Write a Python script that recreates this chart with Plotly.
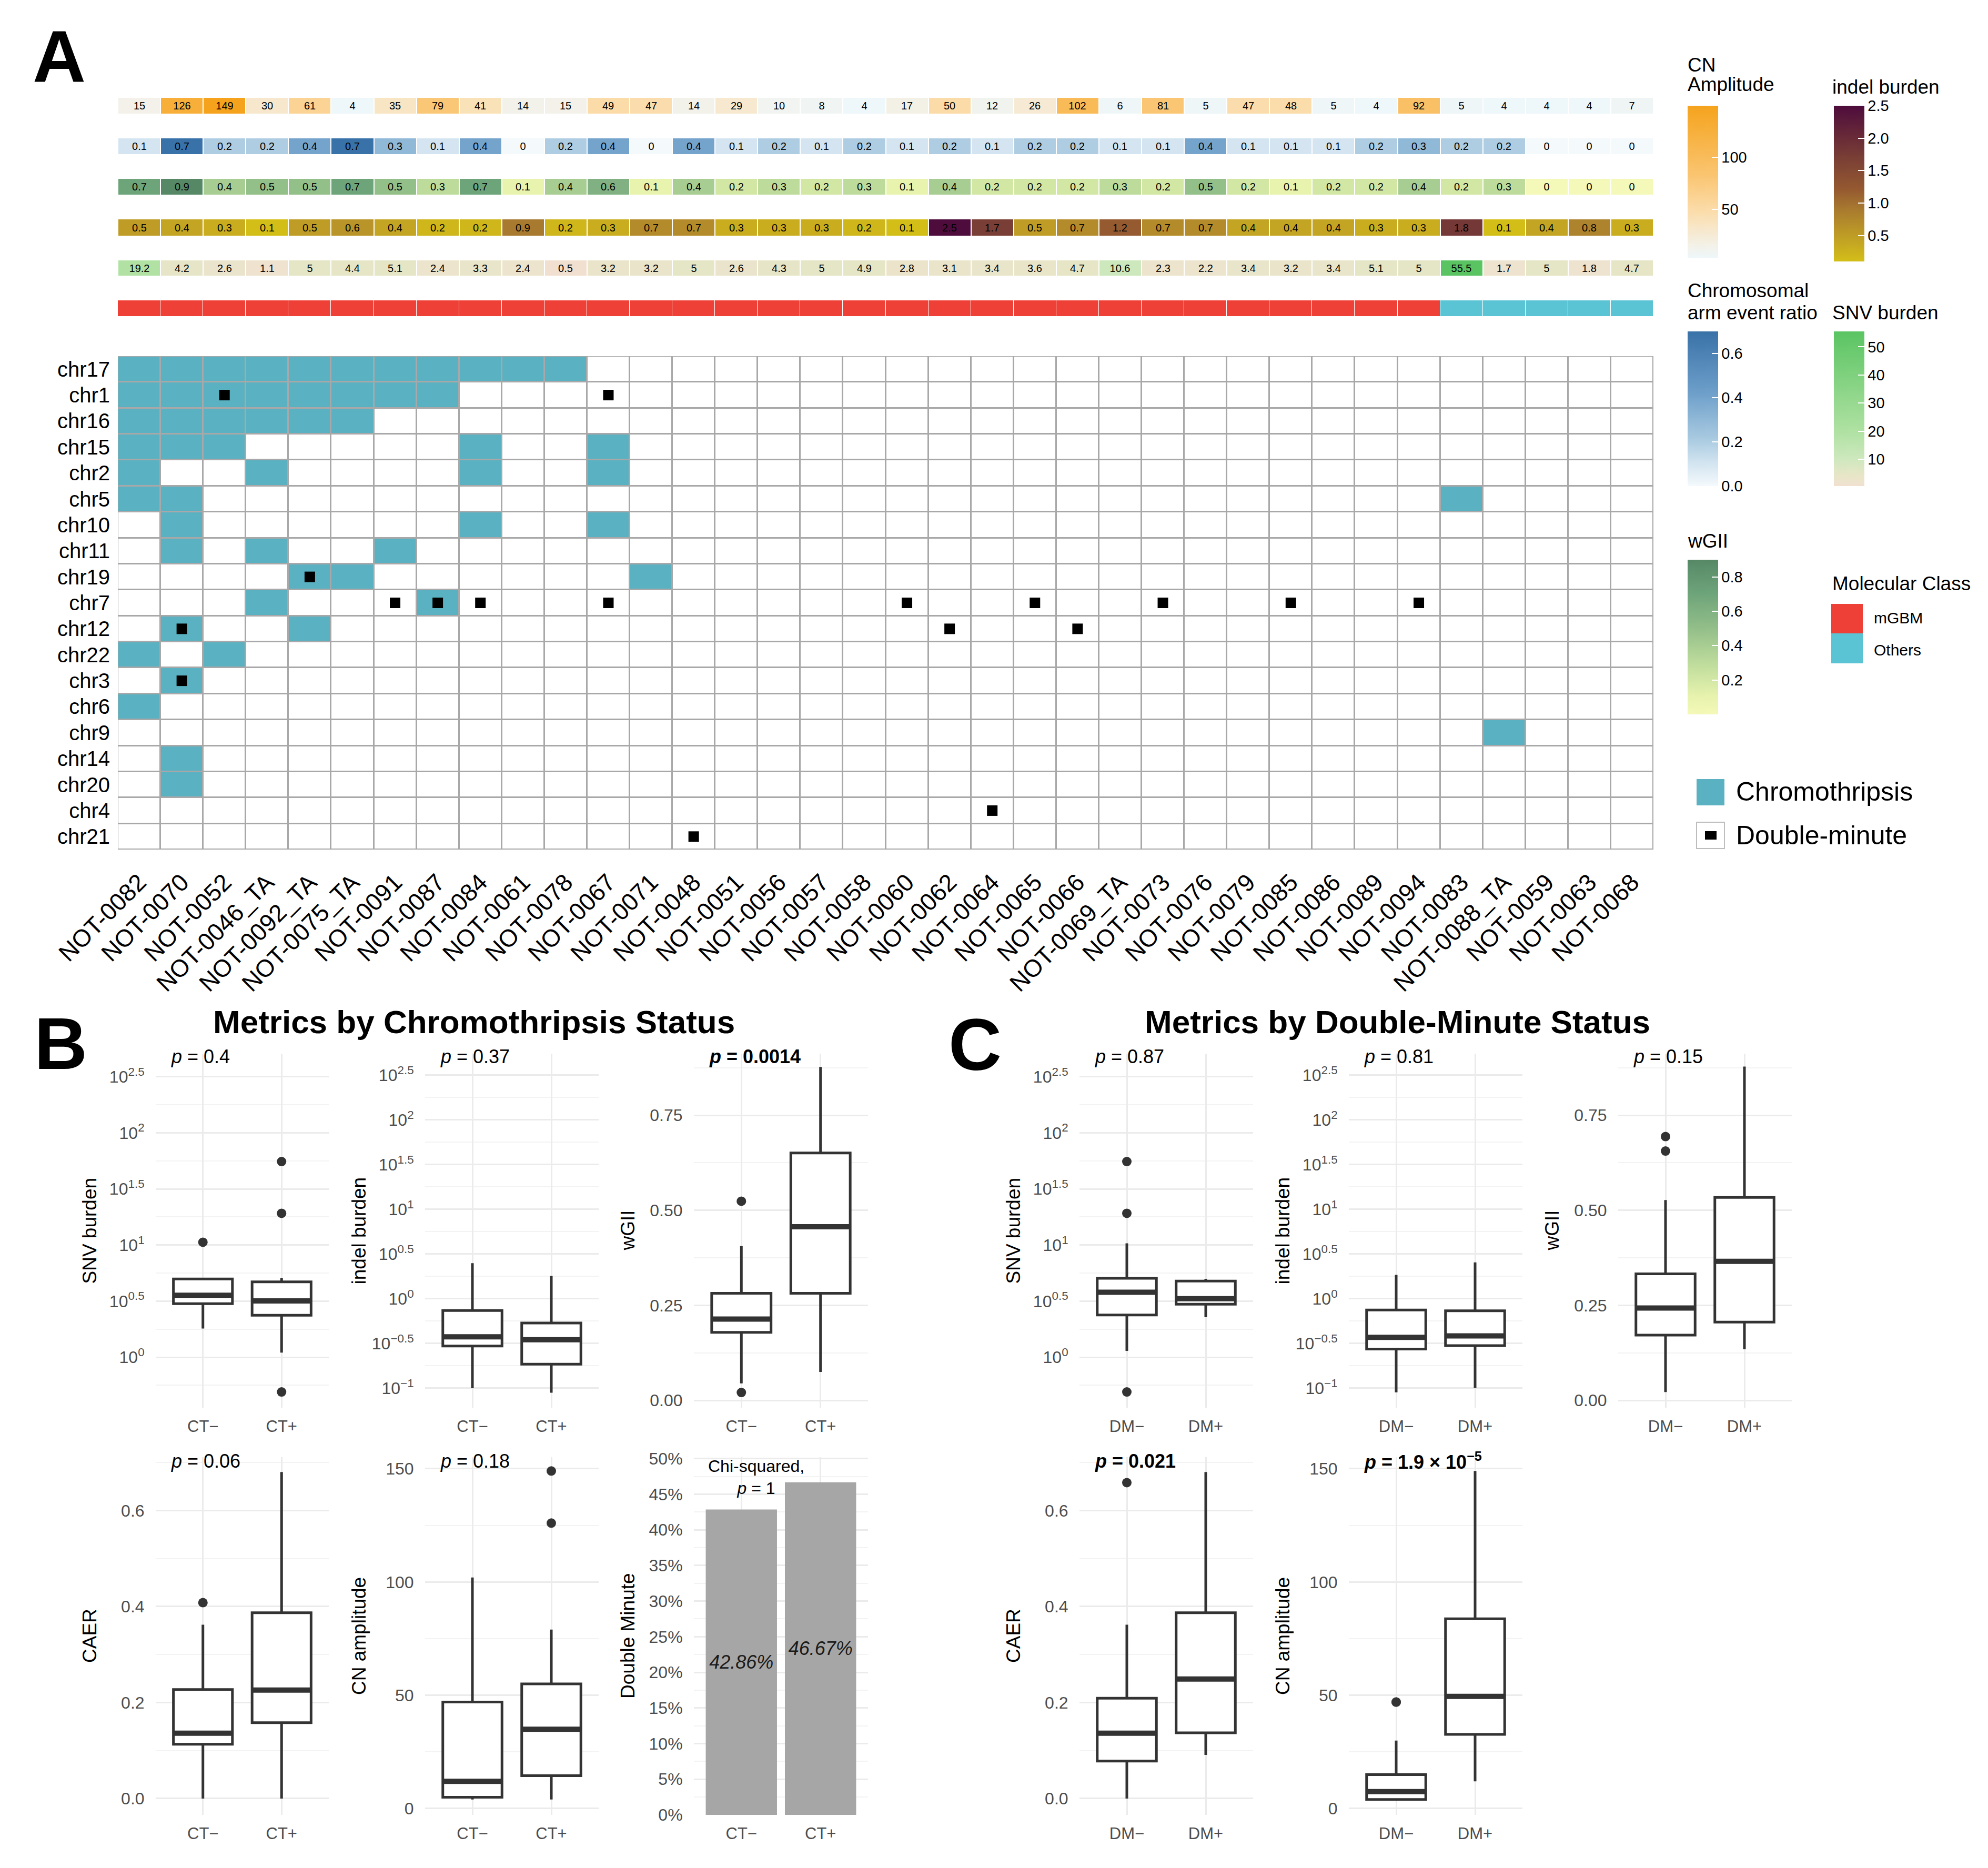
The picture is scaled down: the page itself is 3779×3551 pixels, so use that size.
import numpy as np
import plotly.graph_objects as go

W, H = 3779, 3551
FONT = "Liberation Sans, Arial, Helvetica, sans-serif"

# ---------------- data ----------------
samples = ["NOT-0082", "NOT-0070", "NOT-0052", "NOT-0046_TA", "NOT-0092_TA", "NOT-0075_TA",
           "NOT-0091", "NOT-0087", "NOT-0084", "NOT-0061", "NOT-0078", "NOT-0067", "NOT-0071",
           "NOT-0048", "NOT-0051", "NOT-0056", "NOT-0057", "NOT-0058", "NOT-0060", "NOT-0062",
           "NOT-0064", "NOT-0065", "NOT-0066", "NOT-0069_TA", "NOT-0073", "NOT-0076", "NOT-0079",
           "NOT-0085", "NOT-0086", "NOT-0089", "NOT-0094", "NOT-0083", "NOT-0088_TA", "NOT-0059",
           "NOT-0063", "NOT-0068"]

chromosomes = ["chr17", "chr1", "chr16", "chr15", "chr2", "chr5", "chr10", "chr11", "chr19", "chr7",
               "chr12", "chr22", "chr3", "chr6", "chr9", "chr14", "chr20", "chr4", "chr21"]

cn_amplitude = [15, 126, 149, 30, 61, 4, 35, 79, 41, 14, 15, 49, 47, 14, 29, 10, 8, 4,
                17, 50, 12, 26, 102, 6, 81, 5, 47, 48, 5, 4, 92, 5, 4, 4, 4, 7]
caer = [0.1, 0.7, 0.2, 0.2, 0.4, 0.7, 0.3, 0.1, 0.4, 0, 0.2, 0.4, 0, 0.4, 0.1, 0.2, 0.1, 0.2,
        0.1, 0.2, 0.1, 0.2, 0.2, 0.1, 0.1, 0.4, 0.1, 0.1, 0.1, 0.2, 0.3, 0.2, 0.2, 0, 0, 0]
wgii = [0.7, 0.9, 0.4, 0.5, 0.5, 0.7, 0.5, 0.3, 0.7, 0.1, 0.4, 0.6, 0.1, 0.4, 0.2, 0.3, 0.2, 0.3,
        0.1, 0.4, 0.2, 0.2, 0.2, 0.3, 0.2, 0.5, 0.2, 0.1, 0.2, 0.2, 0.4, 0.2, 0.3, 0, 0, 0]
indel_burden = [0.5, 0.4, 0.3, 0.1, 0.5, 0.6, 0.4, 0.2, 0.2, 0.9, 0.2, 0.3, 0.7, 0.7, 0.3, 0.3, 0.3, 0.2,
                0.1, 2.5, 1.7, 0.5, 0.7, 1.2, 0.7, 0.7, 0.4, 0.4, 0.4, 0.3, 0.3, 1.8, 0.1, 0.4, 0.8, 0.3]
snv_burden = [19.2, 4.2, 2.6, 1.1, 5, 4.4, 5.1, 2.4, 3.3, 2.4, 0.5, 3.2, 3.2, 5, 2.6, 4.3, 5, 4.9,
              2.8, 3.1, 3.4, 3.6, 4.7, 10.6, 2.3, 2.2, 3.4, 3.2, 3.4, 5.1, 5, 55.5, 1.7, 5, 1.8, 4.7]
molecular_class = ["mGBM"] * 31 + ["Others"] * 5

chromothripsis = {
    "chr17": ["NOT-0082", "NOT-0070", "NOT-0052", "NOT-0046_TA", "NOT-0092_TA", "NOT-0075_TA",
              "NOT-0091", "NOT-0087", "NOT-0084", "NOT-0061", "NOT-0078"],
    "chr1": ["NOT-0082", "NOT-0070", "NOT-0052", "NOT-0046_TA", "NOT-0092_TA", "NOT-0075_TA",
             "NOT-0091", "NOT-0087"],
    "chr16": ["NOT-0082", "NOT-0070", "NOT-0052", "NOT-0046_TA", "NOT-0092_TA", "NOT-0075_TA"],
    "chr15": ["NOT-0082", "NOT-0070", "NOT-0052", "NOT-0084", "NOT-0067"],
    "chr2": ["NOT-0082", "NOT-0046_TA", "NOT-0084", "NOT-0067"],
    "chr5": ["NOT-0082", "NOT-0070", "NOT-0083"],
    "chr10": ["NOT-0070", "NOT-0084", "NOT-0067"],
    "chr11": ["NOT-0070", "NOT-0046_TA", "NOT-0091"],
    "chr19": ["NOT-0092_TA", "NOT-0075_TA", "NOT-0071"],
    "chr7": ["NOT-0046_TA", "NOT-0087"],
    "chr12": ["NOT-0070", "NOT-0092_TA"],
    "chr22": ["NOT-0082", "NOT-0052"],
    "chr3": ["NOT-0070"],
    "chr6": ["NOT-0082"],
    "chr9": ["NOT-0088_TA"],
    "chr14": ["NOT-0070"],
    "chr20": ["NOT-0070"],
    "chr4": [],
    "chr21": [],
}
double_minute = {
    "chr1": ["NOT-0052", "NOT-0067"],
    "chr19": ["NOT-0092_TA"],
    "chr7": ["NOT-0091", "NOT-0087", "NOT-0084", "NOT-0067", "NOT-0060", "NOT-0065",
             "NOT-0073", "NOT-0085", "NOT-0094"],
    "chr12": ["NOT-0070", "NOT-0062", "NOT-0066"],
    "chr3": ["NOT-0070"],
    "chr4": ["NOT-0064"],
    "chr21": ["NOT-0048"],
}

# box summaries: [lower whisker, Q1, median, Q3, upper whisker] for (neg, pos)
snv_box_ct = [[1.8, 3.0, 3.57, 4.98, 5.1], [1.1, 2.37, 3.18, 4.7, 5.1]]
snv_out_ct = [[10.6], [55.5, 19.2, 0.49]]
indel_box_ct = [[0.10, 0.296, 0.375, 0.74, 2.5], [0.089, 0.186, 0.349, 0.536, 1.8]]
indel_out_ct = [[], []]
wgii_box_ct = [[0.045, 0.179, 0.214, 0.282, 0.406], [0.075, 0.282, 0.457, 0.651, 0.877]]
wgii_out_ct = [[0.524, 0.021], []]
caer_box_ct = [[0.0, 0.113, 0.136, 0.227, 0.362], [0.0, 0.158, 0.226, 0.387, 0.680]]
caer_out_ct = [[0.408], []]
cn_box_ct = [[4, 5, 12, 47, 102], [4, 14.5, 35, 55, 79]]
cn_out_ct = [[], [126, 149]]

snv_box_dm = [[1.14, 2.38, 3.8, 5.06, 10.35], [2.27, 2.97, 3.33, 4.78, 5.0]]
snv_out_dm = [[55.5, 19.2, 0.49], []]
indel_box_dm = [[0.09, 0.274, 0.371, 0.75, 1.85], [0.101, 0.299, 0.384, 0.734, 2.55]]
indel_out_dm = [[], []]
wgii_box_dm = [[0.022, 0.172, 0.243, 0.333, 0.527], [0.135, 0.206, 0.366, 0.534, 0.878]]
wgii_out_dm = [[0.694, 0.656], []]
caer_box_dm = [[0.0, 0.078, 0.136, 0.209, 0.362], [0.091, 0.137, 0.249, 0.387, 0.680]]
caer_out_dm = [[0.658], []]
cn_box_dm = [[4, 4, 7.5, 15, 30], [12, 32.75, 49.5, 83.75, 149]]
cn_out_dm = [[47, 47], []]

p_labels = {
    ("snv", "ct"): "<i>p</i> = 0.4", ("indel", "ct"): "<i>p</i> = 0.37",
    ("wgii", "ct"): "<b><i>p</i> = 0.0014</b>", ("caer", "ct"): "<i>p</i> = 0.06",
    ("cn", "ct"): "<i>p</i> = 0.18",
    ("snv", "dm"): "<i>p</i> = 0.87", ("indel", "dm"): "<i>p</i> = 0.81",
    ("wgii", "dm"): "<i>p</i> = 0.15", ("caer", "dm"): "<b><i>p</i> = 0.021</b>",
    ("cn", "dm"): "<b><i>p</i> = 1.9 × 10<sup>−5</sup></b>",
}
chi_label = "Chi-squared,<br><i>p</i> = 1"

# ---------------- helpers ----------------
def fx(p):
    return p / W


def fy(p):
    return 1 - p / H


def fmt(v):
    return f"{v:g}"


n = len(samples)
TEAL = "#5AB1C1"
RED = "#EE4036"
CYAN = "#5BC4D4"
GRID = "#EBEBEB"
DARK = "#333333"
CLEAR = "rgba(0,0,0,0)"

ct_matrix = [[1 if s in chromothripsis[c] else 0 for s in samples] for c in chromosomes]
dm_x, dm_y = [], []
for c, lst in double_minute.items():
    for s in lst:
        dm_x.append(samples.index(s))
        dm_y.append(chromosomes.index(c))

ct_status = [any(s in v for v in chromothripsis.values()) for s in samples]
dm_status = [any(s in v for v in double_minute.values()) for s in samples]

fig = go.Figure()
layout = dict(width=W, height=H, margin=dict(l=0, r=0, t=0, b=0, autoexpand=False),
              paper_bgcolor="white", plot_bgcolor="white",
              font=dict(family=FONT, color="black"), showlegend=False)
annotations = []
shapes = []

# ---------------- main heatmap ----------------
shapes.append(dict(type="rect", xref="x", yref="y", x0=-0.5, x1=n - 0.5, y0=-0.5,
                   y1=len(chromosomes) - 0.5, fillcolor="#A8A8A8", line=dict(width=0), layer="below"))
fig.add_trace(go.Heatmap(z=ct_matrix, x=list(range(n)), y=list(range(len(chromosomes))),
                         colorscale=[[0, "white"], [1, TEAL]], zmin=0, zmax=1, showscale=False,
                         xgap=3, ygap=3, hoverinfo="skip", xaxis="x", yaxis="y"))
fig.add_trace(go.Scatter(x=dm_x, y=dm_y, mode="markers",
                         marker=dict(symbol="square", size=20, color="black"),
                         xaxis="x", yaxis="y", hoverinfo="skip"))

layout["xaxis"] = dict(domain=[fx(216), fx(3135)], range=[-0.5, n - 0.5], tickmode="array",
                       tickvals=list(range(n)), ticktext=samples, tickangle=-45,
                       tickfont=dict(size=46, color="black"), showgrid=False, zeroline=False,
                       showline=False, ticks="outside", ticklen=16, tickcolor=CLEAR,
                       anchor="y", automargin=False)
layout["yaxis"] = dict(domain=[fy(1607), fy(669)], range=[len(chromosomes) - 0.5, -0.5],
                       tickmode="array", tickvals=list(range(len(chromosomes))),
                       ticktext=chromosomes, tickfont=dict(size=40, color="black"),
                       showgrid=False, zeroline=False, ticks="outside", ticklen=6, tickcolor=CLEAR,
                       anchor="x", automargin=False)


# ---------------- annotation strips ----------------
def cbar(left, top, bottom, tickvals, ticktext):
    return dict(x=fx(left), xanchor="left", y=fy(top), yanchor="top", len=bottom - top,
                lenmode="pixels", thickness=58, thicknessmode="pixels", xpad=0, ypad=0,
                outlinewidth=0, ticks="inside", ticklen=12, tickwidth=2, tickcolor="white",
                tickmode="array", tickvals=tickvals, ticktext=ticktext,
                tickfont=dict(size=29, color="black"))


strips = [
    (cn_amplitude, [[0, "#EEF7FA"], [0.08, "#F3F1E8"], [0.3, "#FBDDAC"], [0.55, "#FAC46F"], [1, "#F5A31D"]],
     4, 149, (178, 208), cbar(3200, 193, 482, [50, 100], ["50", "100"])),
    (caer, [[0, "#F4F9FC"], [0.15, "#D2E4F0"], [0.3, "#AACBE1"], [0.6, "#6E9FCA"], [1, "#3972A8"]],
     0, 0.7, (255, 285), cbar(3200, 622, 916, [0, 0.2, 0.4, 0.6], ["0.0", "0.2", "0.4", "0.6"])),
    (wgii, [[0, "#F4F8B8"], [0.11, "#E8F3AE"], [0.33, "#BEDC9C"], [0.56, "#92BE89"], [0.78, "#6EA47A"], [1, "#568866"]],
     0, 0.9, (332, 362), cbar(3200, 1056, 1350, [0.2, 0.4, 0.6, 0.8], ["0.2", "0.4", "0.6", "0.8"])),
    (indel_burden, [[0, "#D3BE17"], [0.125, "#C4A523"], [0.33, "#A97B2F"], [0.46, "#955A30"], [0.67, "#793E35"], [1, "#4E0C3C"]],
     0.1, 2.5, (409, 440), cbar(3478, 193, 489, [0.5, 1, 1.5, 2, 2.5], ["0.5", "1.0", "1.5", "2.0", "2.5"])),
    (snv_burden, [[0, "#F1E0D0"], [0.02, "#EEE3CE"], [0.08, "#E5E6C6"], [0.18, "#CDE8BD"], [0.34, "#B1E2A4"], [1, "#5AC462"]],
     0.5, 55.5, (487, 516), cbar(3478, 622, 916, [10, 20, 30, 40, 50], ["10", "20", "30", "40", "50"])),
]
for i, (vals, cs, zmin, zmax, (top, bot), cb) in enumerate(strips):
    yid = i + 2
    fig.add_trace(go.Heatmap(z=[vals], x=list(range(n)), y=[0], colorscale=cs, zmin=zmin, zmax=zmax,
                             text=[[fmt(v) for v in vals]], texttemplate="%{text}",
                             textfont=dict(size=20, color="black"), xgap=2, colorbar=cb,
                             showscale=True, hoverinfo="skip", xaxis="x", yaxis=f"y{yid}"))
    layout[f"yaxis{yid}"] = dict(domain=[fy(bot), fy(top)], range=[-0.5, 0.5], visible=False,
                                 anchor="x", fixedrange=True, automargin=False)

fig.add_trace(go.Heatmap(z=[[0 if c == "mGBM" else 1 for c in molecular_class]], x=list(range(n)), y=[0],
                         colorscale=[[0, RED], [0.5, RED], [0.5, CYAN], [1, CYAN]], zmin=0, zmax=1,
                         showscale=False, xgap=1, hoverinfo="skip", xaxis="x", yaxis="y7"))
layout["yaxis7"] = dict(domain=[fy(593), fy(563)], range=[-0.5, 0.5], visible=False, anchor="x",
                        fixedrange=True, automargin=False)

# legend titles
for txt, x, y in [("CN", 3198, 115), ("Amplitude", 3198, 152), ("indel burden", 3473, 157),
                  ("Chromosomal", 3198, 545), ("arm event ratio", 3198, 586),
                  ("SNV burden", 3473, 586), ("wGII", 3198, 1020), ("Molecular Class", 3473, 1101)]:
    annotations.append(dict(text=txt, x=fx(x), y=fy(y), xref="paper", yref="paper", xanchor="left",
                            yanchor="middle", showarrow=False, font=dict(size=37, color="black")))
shapes.append(dict(type="rect", xref="paper", yref="paper", x0=fx(3473), x1=fx(3533), y0=fy(1196),
                   y1=fy(1140), fillcolor=RED, line=dict(width=0)))
shapes.append(dict(type="rect", xref="paper", yref="paper", x0=fx(3473), x1=fx(3533), y0=fy(1253),
                   y1=fy(1196), fillcolor=CYAN, line=dict(width=0)))
for txt, y in [("mGBM", 1166), ("Others", 1227)]:
    annotations.append(dict(text=txt, x=fx(3552), y=fy(y), xref="paper", yref="paper", xanchor="left",
                            yanchor="middle", showarrow=False, font=dict(size=30, color="black")))
# chromothripsis / double-minute legend
shapes.append(dict(type="rect", xref="paper", yref="paper", x0=fx(3217), x1=fx(3270), y0=fy(1523),
                   y1=fy(1473), fillcolor=TEAL, line=dict(width=0)))
shapes.append(dict(type="rect", xref="paper", yref="paper", x0=fx(3217), x1=fx(3270), y0=fy(1605),
                   y1=fy(1555), fillcolor="white", line=dict(width=2, color="#BDBDBD")))
shapes.append(dict(type="rect", xref="paper", yref="paper", x0=fx(3233), x1=fx(3255), y0=fy(1588),
                   y1=fy(1572), fillcolor="black", line=dict(width=0)))
for txt, y in [("Chromothripsis", 1497), ("Double-minute", 1580)]:
    annotations.append(dict(text=txt, x=fx(3290), y=fy(y), xref="paper", yref="paper", xanchor="left",
                            yanchor="middle", showarrow=False, font=dict(size=50, color="black")))

# ---------------- box plot panels ----------------
box_data = {
    ("snv", "ct"): (snv_box_ct, snv_out_ct), ("indel", "ct"): (indel_box_ct, indel_out_ct),
    ("wgii", "ct"): (wgii_box_ct, wgii_out_ct), ("caer", "ct"): (caer_box_ct, caer_out_ct),
    ("cn", "ct"): (cn_box_ct, cn_out_ct),
    ("snv", "dm"): (snv_box_dm, snv_out_dm), ("indel", "dm"): (indel_box_dm, indel_out_dm),
    ("wgii", "dm"): (wgii_box_dm, wgii_out_dm), ("caer", "dm"): (caer_box_dm, caer_out_dm),
    ("cn", "dm"): (cn_box_dm, cn_out_dm),
}


def log_ticks(vals):
    return ["10<sup>" + (f"{v:g}".replace("-", "−")) + "</sup>" for v in vals]


axis_cfg = {
    "snv": dict(log=True, range=[-0.450, 2.706], major=[0, 0.5, 1, 1.5, 2, 2.5],
                minor=[-0.25, 0.25, 0.75, 1.25, 1.75, 2.25], title="SNV burden"),
    "indel": dict(log=True, range=[-1.218, 2.741], major=[-1, -0.5, 0, 0.5, 1, 1.5, 2, 2.5],
                  minor=[-0.75, -0.25, 0.25, 0.75, 1.25, 1.75, 2.25], title="indel burden"),
    "wgii": dict(log=False, range=[-0.019, 0.912], major=[0, 0.25, 0.5, 0.75],
                 text=["0.00", "0.25", "0.50", "0.75"], minor=[0.125, 0.375, 0.625, 0.875], title="wGII"),
    "caer": dict(log=False, range=[-0.034, 0.711], major=[0, 0.2, 0.4, 0.6],
                 text=["0.0", "0.2", "0.4", "0.6"], minor=[0.1, 0.3, 0.5, 0.7], title="CAER"),
    "cn": dict(log=False, range=[-2.79, 155.1], major=[0, 50, 100, 150],
               text=["0", "50", "100", "150"], minor=[25, 75, 125], title="CN amplitude"),
    "dmbar": dict(log=False, range=[0, 0.502], major=[i * 0.05 for i in range(11)],
                  text=[f"{i * 5}%" for i in range(11)], minor=[0.025 + i * 0.05 for i in range(10)],
                  title="Double Minute"),
}

group_labels = {"ct": ["CT−", "CT+"], "dm": ["DM−", "DM+"]}

ROW1, ROW2 = (1995, 2668), (2762, 3442)
panels = [
    ("snv", "ct", (288, 617), ROW1), ("indel", "ct", (800, 1130), ROW1), ("wgii", "ct", (1311, 1642), ROW1),
    ("caer", "ct", (288, 617), ROW2), ("cn", "ct", (800, 1130), ROW2), ("dmbar", "ct", (1311, 1642), ROW2),
    ("snv", "dm", (2044, 2374), ROW1), ("indel", "dm", (2556, 2886), ROW1), ("wgii", "dm", (3068, 3398), ROW1),
    ("caer", "dm", (2044, 2374), ROW2), ("cn", "dm", (2556, 2886), ROW2),
]

for k, (metric, grp, (x0, x1), (y0, y1)) in enumerate(panels):
    xa, ya = k + 2, k + 8
    xid, yid = f"x{xa}", f"y{ya}"
    cfg = axis_cfg[metric]
    labels = group_labels[grp]
    if metric == "dmbar":
        rates = []
        for flag in (False, True):
            idx = [i for i in range(n) if ct_status[i] == flag]
            rates.append(float(np.mean([1.0 if dm_status[i] else 0.0 for i in idx])))
        fig.add_trace(go.Bar(x=[1, 2], y=rates, width=0.9, marker=dict(color="#A6A6A6", line=dict(width=0)),
                             texttemplate="<i>%{y:.2%}</i>", textposition="inside",
                             insidetextanchor="middle", textangle=0,
                             textfont=dict(size=36, color="#1A1A1A"), hoverinfo="skip",
                             xaxis=xid, yaxis=yid))
        annotations.append(dict(text=chi_label, x=fx(1429), y=fy(2800), xref="paper", yref="paper",
                                xanchor="center", yanchor="middle", showarrow=False,
                                font=dict(size=32, color="black")))
    else:
        boxes, outs = box_data[(metric, grp)]
        for gi in range(2):
            lf, q1, med, q3, uf = boxes[gi]
            out = list(outs[gi])
            if cfg["log"]:
                lf, q1, med, q3, uf = np.log10([lf, q1, med, q3, uf])
                out = list(np.log10(out)) if out else []
            pos = gi + 1
            fig.add_trace(go.Box(x=[pos], q1=[q1], median=[med], q3=[q3], lowerfence=[lf], upperfence=[uf],
                                 width=0.75, fillcolor="white", line=dict(color=DARK, width=5),
                                 whiskerwidth=0, boxpoints=False, hoverinfo="skip",
                                 xaxis=xid, yaxis=yid))
            fig.add_trace(go.Scatter(x=[pos - 0.375, pos + 0.375], y=[med, med], mode="lines",
                                     line=dict(color=DARK, width=10), hoverinfo="skip",
                                     xaxis=xid, yaxis=yid))
            if out:
                fig.add_trace(go.Scatter(x=[pos] * len(out), y=out, mode="markers",
                                         marker=dict(color=DARK, size=18), hoverinfo="skip",
                                         xaxis=xid, yaxis=yid))
        px_left = x0 + 27
        py = 2000 if (y0, y1) == ROW1 else 2769
        annotations.append(dict(text=p_labels[(metric, grp)], x=fx(px_left), y=fy(py), xref="paper",
                                yref="paper", xanchor="left", yanchor="middle", showarrow=False,
                                font=dict(size=36, color="black")))

    ticktext = log_ticks(cfg["major"]) if cfg["log"] else cfg["text"]
    layout[f"xaxis{xa}"] = dict(domain=[fx(x0), fx(x1)], range=[0.4, 2.6], tickmode="array", tickvals=[1, 2],
                                ticktext=labels, showgrid=True, gridcolor=GRID, gridwidth=3,
                                zeroline=False, showline=False, ticks="outside", ticklen=8,
                                tickcolor=CLEAR, tickfont=dict(size=31, color="#4D4D4D"), anchor=yid,
                                fixedrange=True, automargin=False)
    layout[f"yaxis{ya}"] = dict(domain=[fy(y1), fy(y0)], range=cfg["range"], tickmode="array",
                                tickvals=cfg["major"], ticktext=ticktext, showgrid=True, gridcolor=GRID,
                                gridwidth=3, zeroline=False, showline=False, ticks="outside", ticklen=14,
                                tickcolor=CLEAR,
                                minor=dict(tickmode="array", tickvals=cfg["minor"], showgrid=True,
                                           gridcolor="#F3F3F3", gridwidth=1.5, ticks=""),
                                tickfont=dict(size=32, color="#4D4D4D"), anchor=xid,
                                fixedrange=True, automargin=False)
    annotations.append(dict(text=cfg["title"], x=fx(x0 - 126), y=fy((y0 + y1) / 2), xref="paper",
                            yref="paper", xanchor="center", yanchor="middle", textangle=-90,
                            showarrow=False, font=dict(size=37, color="black")))

# ---------------- titles and panel letters ----------------
for txt, x, y in [("Metrics by Chromothripsis Status", 893, 1934),
                  ("Metrics by Double-Minute Status", 2648, 1934)]:
    annotations.append(dict(text=f"<b>{txt}</b>", x=fx(x), y=fy(y), xref="paper", yref="paper",
                            xanchor="center", yanchor="middle", showarrow=False,
                            font=dict(size=62, color="black")))
for txt, x, y in [("A", 104, 100), ("B", 107, 1975), ("C", 1845, 1977)]:
    annotations.append(dict(text=f"<b>{txt}</b>", x=fx(x), y=fy(y), xref="paper", yref="paper",
                            xanchor="center", yanchor="middle", showarrow=False,
                            font=dict(size=140, color="black")))

layout["annotations"] = annotations
layout["shapes"] = shapes
fig.update_layout(**layout)
fig.write_html("out.html")
